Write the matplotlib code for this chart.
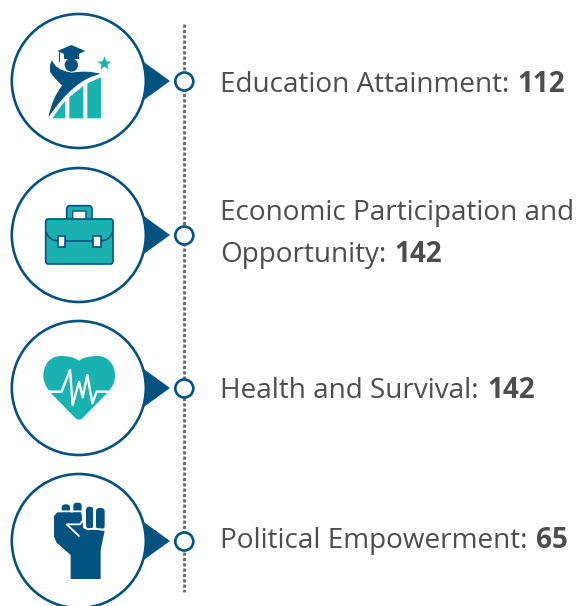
import matplotlib
matplotlib.use("Agg")
import matplotlib.pyplot as plt
from matplotlib.patches import Circle, Polygon, PathPatch, FancyBboxPatch, Rectangle
from matplotlib.path import Path

categories = ["Education Attainment", "Economic Participation and\nOpportunity", "Health and Survival", "Political Empowerment"]
values = [112, 142, 142, 65]

NAVY = "#04527f"
TEAL = "#19b2b0"
GREY = "#4d4d4d"
DOT = "#6a6a6a"
W, H = 577, 606
CY = [81, 235, 388, 541]
ZOOM_Y = [0, 160, 310, 460]
BASELINES = [[92], [220, 262], [398], [548]]

fig = plt.figure(figsize=(W / 100, H / 100), dpi=100)
ax = fig.add_axes([0, 0, 1, 1])
ax.set_xlim(0, W)
ax.set_ylim(H, 0)
ax.axis("off")

ax.plot([184.3, 184.3], [23.5, 592], color=DOT, lw=2.0, ls=(0, (1.2, 0.72)), zorder=1, solid_capstyle="butt", dash_capstyle="butt")


def z(pts, off):
    return [(x / 3, y / 3 + off) for x, y in pts]


def poly(pts, off, color=NAVY, **kw):
    ax.add_patch(Polygon(z(pts, off), closed=True, fc=color, ec="none", zorder=4, **kw))


def curve(verts, codes, off, fc=NAVY, ec="none", lw=0, z_=4):
    ax.add_patch(PathPatch(Path(z(verts, off), codes), fc=fc, ec=ec, lw=lw, zorder=z_))


M, L, C3, C4, CL = Path.MOVETO, Path.LINETO, Path.CURVE3, Path.CURVE4, Path.CLOSEPOLY


def line(pts, off, color="white", lw=1.5, z_=5):
    p = z(pts, off)
    ax.plot([a for a, _ in p], [b for _, b in p], color=color, lw=lw, zorder=z_,
            solid_capstyle="round", solid_joinstyle="round")


def rrect(x0, y0, x1, y1, r, off, fc, ec="none", lw=0, z_=4):
    a, b = x0 / 3, y0 / 3 + off
    ax.add_patch(FancyBboxPatch((a + r, b + r), (x1 - x0) / 3 - 2 * r, (y1 - y0) / 3 - 2 * r,
                                boxstyle=f"round,pad={r},rounding_size={r}",
                                fc=fc, ec=ec, lw=lw, zorder=z_))


for cy in CY:
    ax.add_patch(Polygon([(141, cy - 21), (170, cy), (141, cy + 21)], closed=True, fc=NAVY, ec="none", zorder=2))
    ax.add_patch(Circle((78.8, cy), 67, fc="white", ec=NAVY, lw=1.9, zorder=3))
    ax.add_patch(Circle((184.3, cy + 0.5), 9, fc="white", ec=NAVY, lw=1.9, zorder=3))

# education icon
o = ZOOM_Y[0]
curve([(158, 355), (175, 325), (196, 303), (196, 355), (158, 355), (158, 355)], [M, C3, C3, L, L, CL], o, fc=TEAL)
poly([(208, 355), (250, 355), (250, 258), (208, 291)], o, TEAL)
poly([(262, 355), (303, 355), (303, 232), (262, 250)], o, TEAL)
curve([(145, 352), (158, 290), (187, 256), (165, 240), (150, 215), (150, 195), (156, 180),
       (165, 210), (215, 218), (265, 210), (302, 222), (225, 235), (145, 352), (145, 352)],
      [M, C3, C3, C3, C3, L, L, C3, C3, C3, C3, C3, C3, CL], o)
ax.add_patch(Circle((214 / 3, 195 / 3 + o), 20 / 3, fc=NAVY, ec="none", zorder=4))
poly([(172, 153), (214, 135), (256, 153), (214, 172)], o)
poly([(192, 160), (236, 160), (236, 178), (192, 178)], o)
line([(176, 155), (176, 183)], o, NAVY, 0.8)
ax.plot([313 / 3], [190 / 3 + o], marker="*", ms=10, color=TEAL, mec="none", zorder=4)

# briefcase icon
o = ZOOM_Y[1]
rrect(200, 137, 276, 190, 3.5, o, TEAL, NAVY, 1.2)
rrect(218, 153, 258, 190, 0.5, o, "white", NAVY, 1.0)
rrect(137, 177, 339, 312, 2.5, o, TEAL, NAVY, 1.2, z_=5)
curve([(137, 213), (145, 243), (178, 243), (298, 243), (331, 243), (339, 213)], [M, C3, C3, L, C3, C3], o, fc="none", ec=NAVY, lw=1.2, z_=6)
for x0 in (173, 279):
    ax.add_patch(Rectangle((x0 / 3, 227 / 3 + o), 23 / 3, 35 / 3, fc="white", ec=NAVY, lw=1.2, zorder=7))

# heart icon
o = ZOOM_Y[2]
curve([(237, 152), (222, 141), (202, 138), (182, 138), (150, 138), (130, 165), (130, 197),
       (130, 225), (148, 245), (165, 262), (225, 323), (232, 331), (242, 331), (249, 323),
       (309, 262), (327, 245), (345, 225), (345, 197), (345, 165), (325, 138), (293, 138),
       (273, 138), (252, 141), (237, 152), (237, 152)],
      [M, C4, C4, C4, C4, C4, C4, C4, C4, C4, L, C4, C4, C4, L, C4, C4, C4, C4, C4, C4, C4, C4, C4, CL], o, fc=TEAL)
line([(143, 245), (185, 245), (210, 180), (218, 285), (237, 215), (248, 262), (262, 195), (277, 280), (290, 245), (332, 245)], o, "white", 1.7)

# fist icon
o = ZOOM_Y[3]
rrect(185, 133, 210, 170, 3.5, o, NAVY)
rrect(220, 128, 245, 170, 3.5, o, NAVY)
rrect(258, 140, 280, 206, 3.5, o, NAVY)
rrect(288, 144, 314, 208, 3.5, o, NAVY)
poly([(162, 168), (172, 157), (245, 157), (250, 205), (314, 212), (302, 270), (302, 357), (212, 357),
      (212, 285), (170, 248), (162, 230)], o)
line([(183, 154), (246, 154), (250, 180), (240, 193), (200, 193), (237, 228)], o, "white", 1.3)
line([(252, 175), (252, 200), (262, 208), (280, 206), (314, 209)], o, "white", 1.3)
line([(283, 145), (283, 206)], o, "white", 1.3)

# labels
fs = 20.1
fig.canvas.draw()
rend = fig.canvas.get_renderer()
for cat, val, bases in zip(categories, values, BASELINES):
    lines = cat.split("\n")
    for i, (ln, y) in enumerate(zip(lines, bases)):
        last = i == len(lines) - 1
        t = ax.text(220.5, y, ln + (":" if last else ""), family="Open Sans", fontsize=fs, color=GREY,
                    va="baseline", ha="left", zorder=6)
        if last:
            bb = t.get_window_extent(rend)
            ax.text(bb.x1 + 8, y, str(val), family="Open Sans", fontweight="bold", fontsize=fs,
                    color=GREY, va="baseline", ha="left", zorder=6)

fig.savefig("out.png", dpi=100, facecolor="white")
